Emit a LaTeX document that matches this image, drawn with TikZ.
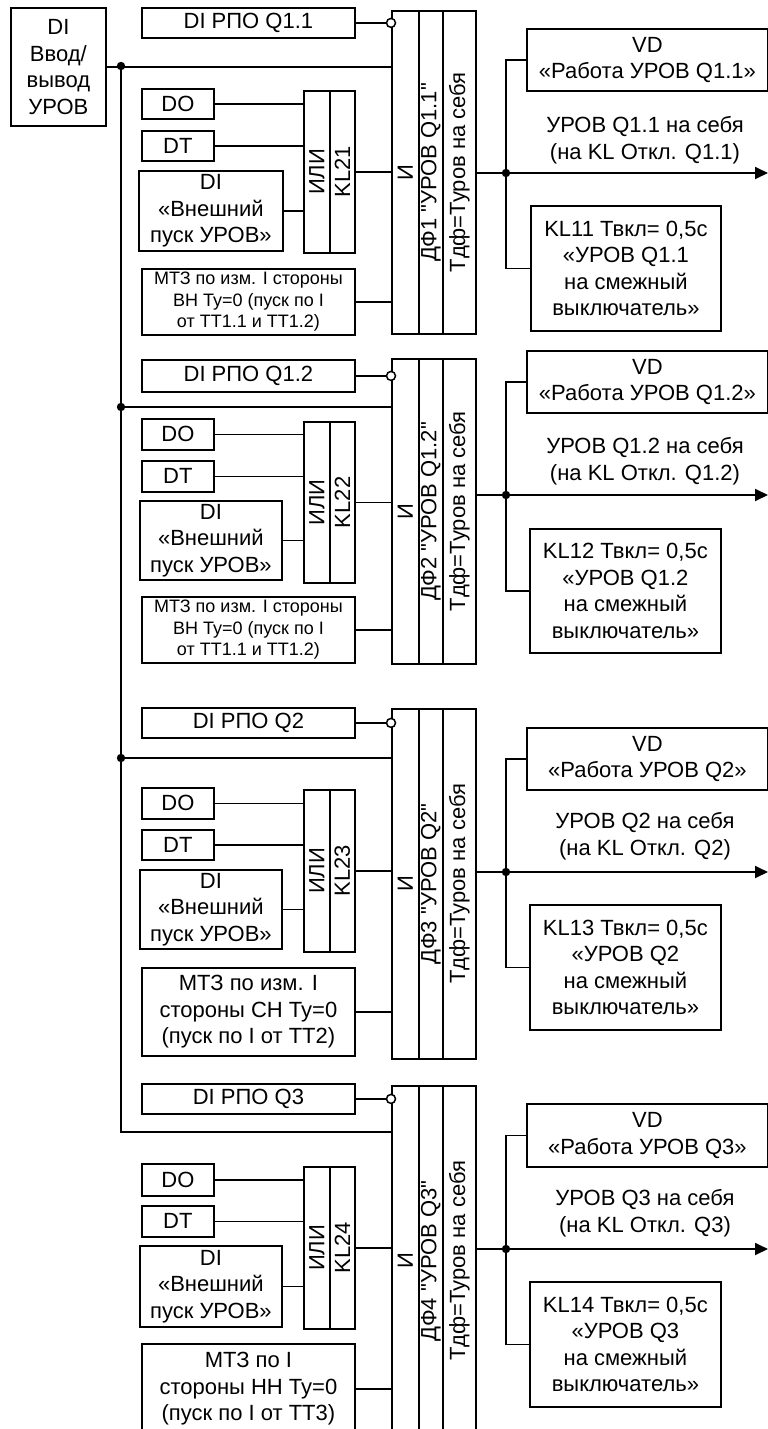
\documentclass[tikz,border=0pt]{standalone}
\usepackage{fontspec}
\setmainfont{Liberation Sans}[Ligatures=TeXOff]
\usepackage{graphicx}
\usetikzlibrary{arrows.meta,calc}
\tikzset{
  blk/.style={draw, line width=1.8pt, inner sep=0pt, align=center, font=\fontsize{22}{26.5}\selectfont},
  sm/.style={font=\fontsize{18}{21.5}\selectfont},
  wire/.style={line width=1.8pt},
  lbl/.style={inner sep=0pt, align=center, font=\fontsize{22}{26.5}\selectfont},
  inv/.style={circle, draw, fill=white, line width=1.5pt, minimum size=9pt, inner sep=0pt},
  outarrow/.style={wire, -{Triangle[length=13pt,width=12pt]}}
}
\newcommand\mybox[7][]{\node[blk,minimum width={(#5-#3)*1pt},minimum height={(#6-#4)*1pt},anchor=north west,#1] (#2) at (#3,#4) {#7};}
\newcommand\rot[1]{\rotatebox{90}{#1}}
\newcommand\qq{\char34}
\begin{document}
\begin{tikzpicture}[x=1pt,y=-1pt]
\useasboundingbox (0,0) rectangle (768,1429);
\clip (0,0) rectangle (768,1429);

% input DI box
\mybox{di}{10}{7}{105}{125}{DI\\Ввод/\\вывод\\УРОВ}
\coordinate (j1) at (121,66);
\coordinate (j2) at (121,407);
\coordinate (j3) at (121,758);
\coordinate (bc) at (121,1132);

% ===== Section 1 =====
\mybox{rpo1}{141}{7}{354}{37}{DI РПО Q1.1}
\mybox{do1}{141}{88}{213}{118}{DO}
\mybox{dt1}{141}{130}{213}{160}{DT}
\mybox{ext1}{138}{170}{282}{250}{DI\\«Внешний\\пуск УРОВ»}
\mybox{ora1}{303}{90}{329}{252}{\rot{ИЛИ}}
\mybox{orb1}{329}{90}{354}{252}{\rot{KL21}}
\mybox[sm]{mtz1}{141}{268}{354}{334}{МТЗ по изм. I стороны\\ВН Ту=0 (пуск по I\\от ТТ1.1 и ТТ1.2)}
\mybox{anda1}{391}{10}{418}{333}{\rot{И}}
\mybox{andb1}{418}{10}{442}{333}{\rot{ДФ1 \qq УРОВ Q1.1\qq}}
\mybox{andc1}{442}{10}{475}{333}{\rot{Тдф=Туров на себя}}
\mybox{vd1}{526}{28}{767}{90}{VD\\«Работа УРОВ Q1.1»}
\mybox{kl1}{530}{205}{720}{330}{KL11 Твкл= 0,5с\\«УРОВ Q1.1\\на смежный\\выключатель»}
\node[lbl] (lab1) at (645,140) {УРОВ Q1.1 на себя\\(на KL Откл. Q1.1)};
\coordinate (o1) at (768,173);
\coordinate (jd1) at (506,173);

% ===== Section 2 =====
\mybox{rpo2}{141}{359}{354}{391}{DI РПО Q1.2}
\mybox{do2}{141}{418}{213}{449}{DO}
\mybox{dt2}{141}{460}{213}{491}{DT}
\mybox{ext2}{139}{500}{281}{579}{DI\\«Внешний\\пуск УРОВ»}
\mybox{ora2}{303}{421}{329}{582}{\rot{ИЛИ}}
\mybox{orb2}{329}{421}{354}{582}{\rot{KL22}}
\mybox[sm]{mtz2}{141}{596}{354}{662}{МТЗ по изм. I стороны\\ВН Ту=0 (пуск по I\\от ТТ1.1 и ТТ1.2)}
\mybox{anda2}{391}{358}{418}{663}{\rot{И}}
\mybox{andb2}{418}{358}{442}{663}{\rot{ДФ2 \qq УРОВ Q1.2\qq}}
\mybox{andc2}{442}{358}{475}{663}{\rot{Тдф=Туров на себя}}
\mybox{vd2}{526}{350}{767}{412}{VD\\«Работа УРОВ Q1.2»}
\mybox{kl2}{529}{528}{720}{652}{KL12 Твкл= 0,5с\\«УРОВ Q1.2\\на смежный\\выключатель»}
\node[lbl] (lab2) at (645,461) {УРОВ Q1.2 на себя\\(на KL Откл. Q1.2)};
\coordinate (o2) at (768,495);
\coordinate (jd2) at (506,495);

% ===== Section 3 =====
\mybox{rpo3}{141}{707}{354}{737}{DI РПО Q2}
\mybox{do3}{141}{787}{213}{818}{DO}
\mybox{dt3}{141}{829}{213}{859}{DT}
\mybox{ext3}{139}{869}{281}{948}{DI\\«Внешний\\пуск УРОВ»}
\mybox{ora3}{303}{789}{329}{951}{\rot{ИЛИ}}
\mybox{orb3}{329}{789}{354}{951}{\rot{KL23}}
\mybox{mtz3}{141}{967}{354}{1055}{МТЗ по изм. I\\стороны СН Ту=0\\(пуск по I от ТТ2)}
\mybox{anda3}{391}{708}{418}{1058}{\rot{И}}
\mybox{andb3}{418}{708}{442}{1058}{\rot{ДФ3 \qq УРОВ Q2\qq}}
\mybox{andc3}{442}{708}{475}{1058}{\rot{Тдф=Туров на себя}}
\mybox{vd3}{526}{727}{767}{789}{VD\\«Работа УРОВ Q2»}
\mybox{kl3}{529}{904}{720}{1029}{KL13 Твкл= 0,5с\\«УРОВ Q2\\на смежный\\выключатель»}
\node[lbl] (lab3) at (645,836) {УРОВ Q2 на себя\\(на KL Откл. Q2)};
\coordinate (o3) at (768,872);
\coordinate (jd3) at (506,872);

% ===== Section 4 =====
\mybox{rpo4}{141}{1083}{354}{1113}{DI РПО Q3}
\mybox{do4}{141}{1163}{213}{1195}{DO}
\mybox{dt4}{141}{1205}{213}{1236}{DT}
\mybox{ext4}{139}{1245}{281}{1326}{DI\\«Внешний\\пуск УРОВ»}
\mybox{ora4}{303}{1166}{329}{1328}{\rot{ИЛИ}}
\mybox{orb4}{329}{1166}{354}{1328}{\rot{KL24}}
\mybox{mtz4}{141}{1343}{354}{1433}{МТЗ по I\\стороны НН Ту=0\\(пуск по I от ТТ3)}
\mybox{anda4}{391}{1085}{418}{1435}{\rot{И}}
\mybox{andb4}{418}{1085}{442}{1435}{\rot{ДФ4 \qq УРОВ Q3\qq}}
\mybox{andc4}{442}{1085}{475}{1435}{\rot{Тдф=Туров на себя}}
\mybox{vd4}{526}{1103}{767}{1166}{VD\\«Работа УРОВ Q3»}
\mybox{kl4}{529}{1281}{720}{1406}{KL14 Твкл= 0,5с\\«УРОВ Q3\\на смежный\\выключатель»}
\node[lbl] (lab4) at (645,1213) {УРОВ Q3 на себя\\(на KL Откл. Q3)};
\coordinate (o4) at (768,1249);
\coordinate (jd4) at (506,1249);

% ===== Bus =====
\draw[wire] (di.east) -- (di.east -| anda1.west);
\draw[wire] (j1) -- (bc) -- (bc -| anda4.west);
\draw[wire] (j2) -- (j2 -| anda2.west);
\draw[wire] (j3) -- (j3 -| anda3.west);
\foreach \j in {j1,j2,j3} \fill (\j) circle (4.2pt);

% ===== Per-section wiring =====
\foreach \s in {1,2,3,4}{
  \draw[wire] (do\s.east) -- (do\s.east -| ora\s.west);
  \draw[wire] (dt\s.east) -- (dt\s.east -| ora\s.west);
  \draw[wire] (ext\s.east) -- (ext\s.east -| ora\s.west);
  \draw[wire] (orb\s.east) -- (orb\s.east -| anda\s.west);
  \draw[wire] (mtz\s.east) -- (mtz\s.east -| anda\s.west);
  \node[inv] (nc\s) at (rpo\s.east -| anda\s.west) {};
  \draw[wire] (rpo\s.east) -- (nc\s.west);
  \draw[outarrow] (andc\s.east |- o\s) -- (o\s);
  \draw[wire] (vd\s.west) -| (jd\s) |- (kl\s.west);
  \fill (jd\s) circle (4.2pt);
}
\end{tikzpicture}
\end{document}
